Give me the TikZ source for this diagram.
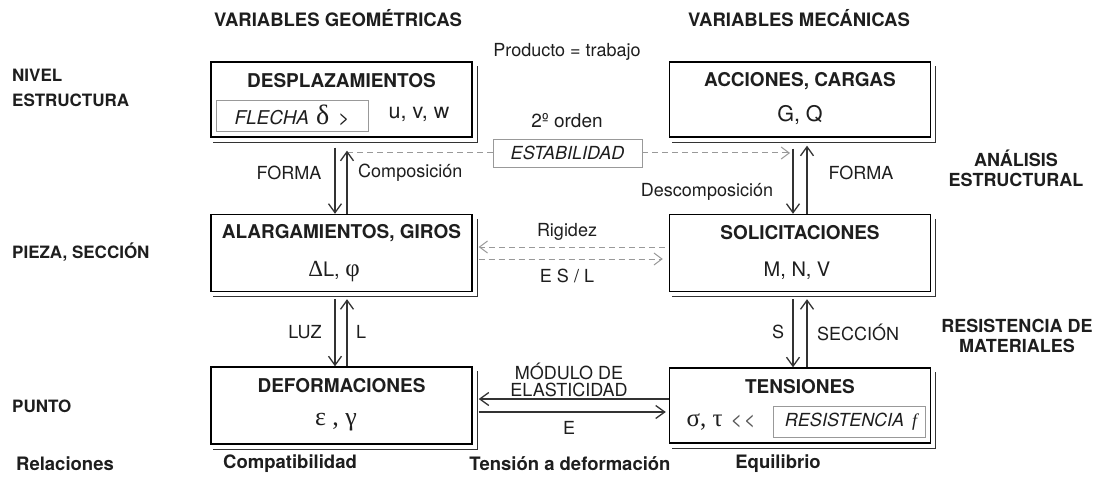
\documentclass[tikz,border=0pt]{standalone}
\usepackage{fontspec}
\setmainfont{TeX Gyre Heros}
\newfontfamily\grk{Liberation Serif}
\usetikzlibrary{arrows.meta}
\definecolor{txt}{HTML}{1E1E1E}
\tikzset{
  every node/.style={inner sep=0pt, text=txt},
  vbox/.style={draw=black, line width=1.4pt, fill=white, minimum width=261pt, minimum height=76pt},
  ibox/.style={draw=black!40, line width=0.9pt, minimum width=152pt, minimum height=31pt},
  shadowline/.style={draw=black!80, line width=1.3pt},
  arr/.style={draw=black!80, line width=1.3pt, -{Straight Barb[length=9pt,width=13pt]}},
  darr/.style={draw=black!40, line width=1pt, dash pattern=on 6pt off 4pt, -{Straight Barb[length=8pt,width=12pt]}},
  dline/.style={draw=black!40, line width=1pt, dash pattern=on 6pt off 4pt},
  ttl/.style={font=\fontsize{19}{21}\selectfont\bfseries},
  val/.style={font=\fontsize{20}{22}\selectfont},
  lbl/.style={font=\fontsize{18}{20}\selectfont},
  hdr/.style={font=\fontsize{18.5}{20}\selectfont\bfseries},
  side/.style={font=\fontsize{17}{19}\selectfont\bfseries, anchor=west},
  sidec/.style={font=\fontsize{18}{20}\selectfont\bfseries, align=center},
}
\newcommand\shad[1]{\draw[shadowline] ([xshift=4.5pt,yshift=-5pt]#1.north east) -- ([xshift=4.5pt,yshift=-4.5pt]#1.south east) -- ([xshift=3pt,yshift=-4.5pt]#1.south west);}
\begin{document}
\begin{tikzpicture}[x=1pt,y=-1pt]
\useasboundingbox[fill=white] (0,0) rectangle (1102,481);

% headers
\node[hdr] (hg) at (338,18) {VARIABLES GEOMÉTRICAS};
\node[hdr] (hm) at (799,18) {VARIABLES MECÁNICAS};
\node[lbl] (prod) at (567,52) {Producto = trabajo};

% side labels
\node[side] (niv) at (12,75) {NIVEL};
\node[side] (est1) at (12,100) {ESTRUCTURA};
\node[side] (pie) at (12,252) {PIEZA, SECCIÓN};
\node[side] (pun) at (12,406) {PUNTO};
\node[sidec] (ana) at (1016,168) {ANÁLISIS\\[0pt]ESTRUCTURAL};
\node[sidec] (res) at (1017,336) {RESISTENCIA DE\\[0pt]MATERIALES};

% bottom labels
\node[hdr] (rel) at (65,464) {Relaciones};
\node[hdr] (com) at (290,464) {Compatibilidad};
\node[hdr] (ten2def) at (570,464) {Tensión a deformación};
\node[hdr] (equ) at (778,464) {Equilibrio};

% boxes
\node[vbox, minimum height=75pt] (des) at (341.5,99.5) {};
\node[vbox, minimum height=77pt] (ala) at (341.5,253) {};
\node[vbox, minimum height=77pt] (def) at (341.5,405.5) {};
\node[vbox, minimum height=75pt] (acc) at (800,99.5) {};
\node[vbox, minimum height=77pt] (sol) at (800,253) {};
\node[vbox, minimum height=75pt] (ten) at (800,405.5) {};
\shad{des}\shad{ala}\shad{def}\shad{acc}\shad{sol}\shad{ten}

% box contents
\node[ttl] (desT) at (341.5,81) {DESPLAZAMIENTOS};
\node[ibox] (fle) at (292,115.5) {};
\node[font=\fontsize{19}{21}\selectfont] (fleT) at (292,115.5) {\itshape FLECHA\hspace{7pt}{\upshape\grk\fontsize{28}{28}\selectfont δ}\hspace{9pt}{\upshape\fontsize{19}{20}\selectfont >}};
\node[font=\fontsize{21.5}{23}\selectfont] (uvw) at (419,114) {u, v, w};

\node[ttl] (accT) at (800,81) {ACCIONES, CARGAS};
\node[font=\fontsize{21.5}{23}\selectfont] (gq) at (800,115) {G, Q};

\node[ttl] (alaT) at (341.5,233) {ALARGAMIENTOS, GIROS};
\node[val] (alaV) at (334,272) {{\grk\fontsize{23}{24}\selectfont Δ}L, {\grk\fontsize{25}{26}\selectfont φ}};

\node[ttl] (solT) at (800,233) {SOLICITACIONES};
\node[val] (solV) at (797,271) {M, N, V};

\node[ttl] (defT) at (341.5,386) {DEFORMACIONES};
\node[font=\grk\fontsize{26}{27}\selectfont] (defV) at (336,422) {ε , γ};

\node[ttl] (tenT) at (800,387) {TENSIONES};
\node[val] (tenV) at (721,422) {{\grk\fontsize{25}{26}\selectfont σ, τ}\hspace{8pt}{\color{black!65}<\kern1.5pt<}};
\node[ibox] (rbox) at (849,421.5) {};
\node[font=\fontsize{18}{20}\selectfont\itshape] (rT) at (851,421.5) {RESISTENCIA\hspace{8pt}{\grk\itshape f}};

% estabilidad
\node[font=\fontsize{19}{21}\selectfont] (ord) at (567,121) {2º orden};
\node[ibox, minimum width=149pt, minimum height=28pt, font=\fontsize{18}{20}\selectfont\itshape] (estab) at (567.5,153) {ESTABILIDAD};
\coordinate (cL) at (347,153);
\coordinate (cR) at (790,153);
\draw[dline] (cL) -- (estab.west);
\draw[darr] (estab.east) -- (cR);

% vertical arrows top
\draw[arr] ([xshift=-6.5pt,yshift=-10pt]des.south) -- (ala.north -| 335,0);
\draw[arr] (ala.north -| 347,0) -- ([xshift=5.5pt,yshift=-13pt]des.south);
\draw[arr] ([xshift=-7pt,yshift=-11pt]acc.south) -- (sol.north -| 793,0);
\draw[arr] (sol.north -| 807,0) -- ([xshift=7pt,yshift=-8pt]acc.south);
\node[lbl] (forL) at (289,173) {FORMA};
\node[lbl, anchor=west] (comp) at (358,173) {Composición};
\node[lbl] (desc) at (707,192) {Descomposición};
\node[lbl] (forR) at (861,173) {FORMA};

% vertical arrows bottom
\draw[arr] ([xshift=-6.5pt,yshift=-7pt]ala.south) -- (def.north -| 335,0);
\draw[arr] (def.north -| 347,0) -- ([xshift=5.5pt,yshift=-7pt]ala.south);
\draw[arr] ([xshift=-7pt,yshift=-7pt]sol.south) -- (ten.north -| 793,0);
\draw[arr] (ten.north -| 807,0) -- ([xshift=7pt,yshift=-7pt]sol.south);
\node[lbl] (luz) at (305,332) {LUZ};
\node[lbl] (ll) at (361,332) {L};
\node[lbl] (ss) at (778,332) {S};
\node[lbl] (sec) at (858,332) {SECCIÓN};

% rigidez
\draw[darr] ([xshift=-4pt,yshift=6pt]sol.west) -- ([xshift=6pt,yshift=6pt]ala.east);
\draw[darr] ([xshift=6pt,yshift=-6pt]ala.east) -- ([xshift=-6pt,yshift=-6pt]sol.west);
\node[lbl] (rig) at (567,232) {Rigidez};
\node[lbl] (esl) at (567,276) {E S / L};

% modulo
\draw[arr] ([yshift=6.5pt]ten.west) -- ([xshift=6pt,yshift=6.5pt]def.east);
\draw[arr] ([xshift=6pt,yshift=-6.5pt]def.east) -- ([xshift=-3pt,yshift=-6.5pt]ten.west);
\node[lbl, align=center] (mod) at (569,380) {MÓDULO DE\\[-3pt]ELASTICIDAD};
\node[lbl] (ee) at (569,428) {E};
\end{tikzpicture}
\end{document}
